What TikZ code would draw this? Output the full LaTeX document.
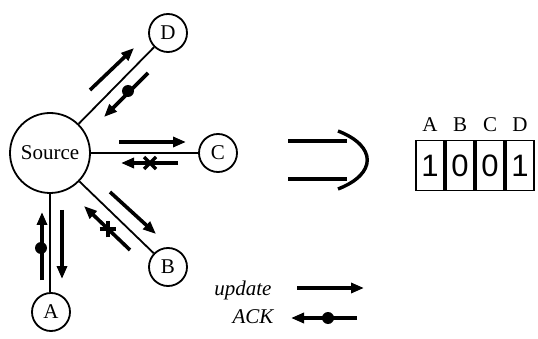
\documentclass[tikz,border=0pt]{standalone}
\usepackage{fontspec}
\setmainfont{Liberation Serif}
\newfontfamily\digitfont{Liberation Sans}
\usetikzlibrary{arrows.meta,calc}
\begin{document}
\begin{tikzpicture}[x=1pt,y=-1pt,
  bignode/.style={circle,draw,line width=1.8pt,minimum size=80pt,inner sep=0pt,font=\fontsize{21}{24}\selectfont},
  smallnode/.style={circle,draw,line width=1.8pt,minimum size=38pt,inner sep=0pt,font=\fontsize{21}{24}\selectfont},
  link/.style={line width=1.8pt},
  msg/.style={line width=3.6pt,-{Triangle[length=13pt,width=10pt]}},
  dotmark/.style={circle,fill,inner sep=0pt,minimum size=12pt},
  xm/.pic={\draw[line width=3.4pt] (-6,-6)--(6,6) (-6,6)--(6,-6);},
  cell/.style={draw,line width=1.6pt,minimum width=28pt,minimum height=50pt,inner sep=0pt,font=\digitfont\fontsize{31}{33}\selectfont},
  head/.style={anchor=base,font=\fontsize{21}{24}\selectfont},
  legend/.style={anchor=base east,font=\itshape\fontsize{21}{24}\selectfont},
  thick symbol/.style={line width=3.4pt}
]
\useasboundingbox (0,0) rectangle (538,339);
% nodes
\node[bignode] (S) at (50,153) {Source};
\node[smallnode] (D) at (168,33) {D};
\node[smallnode] (C) at (218,153) {C};
\node[smallnode] (B) at (168,267) {B};
\node[smallnode] (A) at (51,312) {A};
% links
\draw[link] (S) -- (D);
\draw[link] (S) -- (C);
\draw[link] (S) -- (B);
\draw[link] (S.south) -- (S.south |- A.north);
% D messages
\coordinate (du1) at (90,90); \coordinate (du2) at (134,48);
\draw[msg] (du1) -- (du2);
\coordinate (da1) at (148,73); \coordinate (da2) at (104,117);
\draw[msg] (da1) -- (da2);
\node[dotmark] (dd) at (128,91) {};
% C messages
\coordinate (cu1) at (119,142); \coordinate (cu2) at (186,142);
\draw[msg] (cu1) -- (cu2);
\coordinate (ca1) at (178,163); \coordinate (ca2) at (121,163);
\draw[msg] (ca1) -- (ca2);
\pic at (150,163) {xm};
% B messages
\coordinate (bu1) at (110,192); \coordinate (bu2) at (156,234);
\draw[msg] (bu1) -- (bu2);
\coordinate (ba1) at (130,250); \coordinate (ba2) at (84,206);
\draw[msg] (ba1) -- (ba2);
\pic[rotate=45] at (108,229) {xm};
% A messages
\coordinate (aa1) at (42,280); \coordinate (aa2) at (42,212);
\draw[msg] (aa1) -- (aa2);
\node[dotmark] (ad) at (41,248) {};
\coordinate (au1) at (62,210); \coordinate (au2) at (62,279);
\draw[msg] (au1) -- (au2);
% implies symbol
\coordinate (i1) at (288,141); \coordinate (i2) at (347,141);
\coordinate (i3) at (288,179); \coordinate (i4) at (347,179);
\draw[thick symbol] (i1) -- (i2);
\draw[thick symbol] (i3) -- (i4);
\coordinate (ct) at (338,131); \coordinate (cb) at (338,189);
\draw[thick symbol] (ct) .. controls (377,146) and (377,174) .. (cb);
% table
\node[cell] (c1) at (430,165.5) {1};
\node[cell] (c2) at (460,165.5) {0};
\node[cell] (c3) at (490,165.5) {0};
\node[cell] (c4) at (520,165.5) {1};
\node[head] (hA) at ($(c1.north)+(0,-8)$) {A};
\node[head] (hB) at ($(c2.north)+(0,-8)$) {B};
\node[head] (hC) at ($(c3.north)+(0,-8)$) {C};
\node[head] (hD) at ($(c4.north)+(0,-8)$) {D};
% legend
\node[legend] (lu) at (275,295) {update};
\node[legend] (la) at (277,323) {ACK};
\coordinate (lu1) at (297,288); \coordinate (lu2) at (364,288);
\draw[msg] (lu1) -- (lu2);
\coordinate (la1) at (357,318); \coordinate (la2) at (291,318);
\draw[msg] (la1) -- (la2);
\node[dotmark] (ld) at (328,318) {};
\end{tikzpicture}
\end{document}
